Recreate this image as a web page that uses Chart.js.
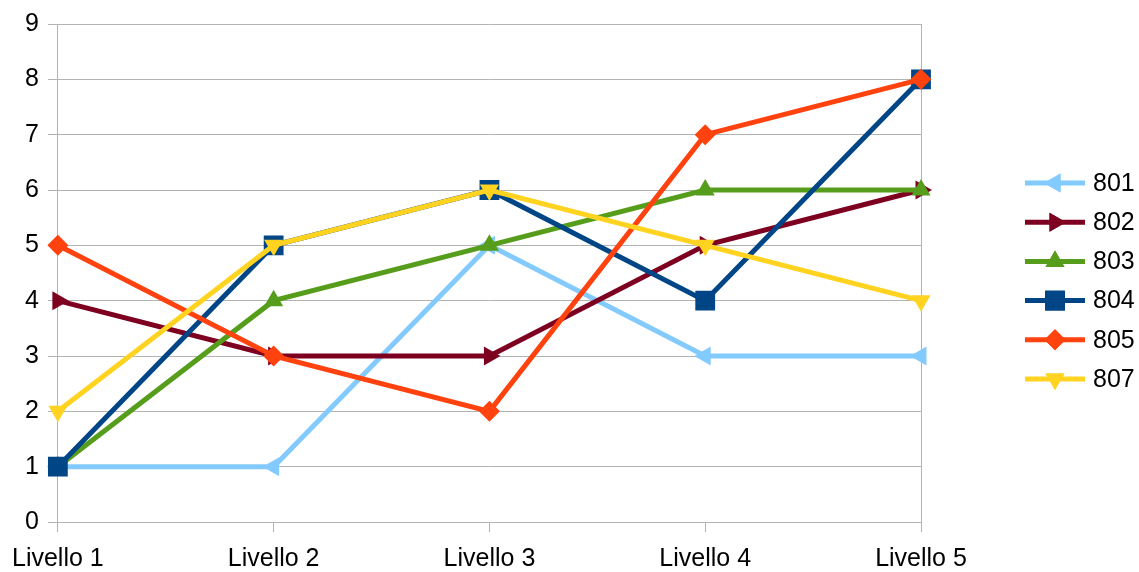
<!DOCTYPE html>
<html>
<head>
<meta charset="utf-8">
<script src="https://cdn.jsdelivr.net/npm/chart.js@4/dist/chart.umd.min.js"></script>
<style>
html,body{margin:0;padding:0;background:#fff;}
#wrap{width:1139px;height:572px;position:relative;}
</style>
</head>
<body>
<div id="wrap"><canvas id="c" width="1139" height="572"></canvas></div>
<script>
const categories = ['Livello 1', 'Livello 2', 'Livello 3', 'Livello 4', 'Livello 5'];
const seriesNames = ['801', '802', '803', '804', '805', '807'];
const s801 = [1, 1, 5, 3, 3];
const s802 = [4, 3, 3, 5, 6];
const s803 = [1, 4, 5, 6, 6];
const s804 = [1, 5, 6, 4, 8];
const s805 = [5, 3, 2, 7, 8];
const s807 = [2, 5, 6, 5, 4];
const yTicks = [0, 1, 2, 3, 4, 5, 6, 7, 8, 9];

const colors = ['#83caff', '#7e0021', '#579d1c', '#004586', '#ff420e', '#ffd320'];
const styles = ['triangle', 'triangle', 'triangle', 'rect', 'rectRot', 'triangle'];
const rotations = [-90, 90, 0, 0, 0, 180];
const radii = [11, 11, 11, 14, 10.5, 11];
const values = [s801, s802, s803, s804, s805, s807];

const FONT = '"Liberation Sans", Arial, sans-serif';
const FSIZE = 25;

const datasets = seriesNames.map((n, i) => ({
  label: n,
  data: values[i],
  borderColor: colors[i],
  backgroundColor: colors[i],
  pointBackgroundColor: colors[i],
  pointBorderColor: colors[i],
  pointBorderWidth: 0,
  borderWidth: 5,
  pointStyle: styles[i],
  rotation: rotations[i],
  pointRadius: radii[i],
  pointHoverRadius: radii[i],
  tension: 0,
  order: seriesNames.length - i
}));

const legendPlugin = {
  id: 'customLegend',
  afterDraw(chart) {
    const ctx = chart.ctx;
    const x0 = 1025, x1 = 1085, tx = 1093;
    const y0 = 183, dy = 39.2;
    ctx.save();
    chart.data.datasets.forEach((ds, i) => {
      const y = y0 + i * dy;
      ctx.strokeStyle = ds.borderColor;
      ctx.lineWidth = 5;
      ctx.beginPath();
      ctx.moveTo(x0, y);
      ctx.lineTo(x1, y);
      ctx.stroke();
      ctx.fillStyle = ds.borderColor;
      Chart.helpers.drawPoint(ctx, {
        pointStyle: ds.pointStyle,
        rotation: ds.rotation,
        radius: ds.pointRadius,
        borderWidth: 0
      }, (x0 + x1) / 2, y);
      ctx.fill();
      ctx.fillStyle = '#000';
      ctx.font = FSIZE + 'px ' + FONT;
      ctx.textBaseline = 'middle';
      ctx.textAlign = 'left';
      ctx.fillText(ds.label, tx, y + 1);
    });
    ctx.restore();
  }
};

new Chart(document.getElementById('c'), {
  type: 'line',
  data: { labels: categories, datasets },
  options: {
    responsive: false,
    animation: false,
    events: [],
    layout: { padding: { left: 0, top: 23, right: 1139 - 921, bottom: 0 } },
    plugins: { legend: { display: false }, tooltip: { enabled: false } },
    scales: {
      x: {
        offset: false,
        afterFit(scale) { scale.height = 50; },
        grid: {
          color: (c) => (c.index === 0 || c.index === categories.length - 1) ? '#b3b3b3' : 'rgba(0,0,0,0)',
          tickColor: '#b3b3b3',
          tickLength: 10,
          lineWidth: 1
        },
        border: { display: true, color: '#b3b3b3', width: 1 },
        ticks: { color: '#000', font: { family: FONT, size: FSIZE }, padding: 12, maxRotation: 0, autoSkip: false }
      },
      y: {
        min: 0,
        max: 9,
        afterFit(scale) { scale.width = 57; },
        afterBuildTicks(scale) { scale.ticks = yTicks.map(v => ({ value: v })); },
        grid: { color: '#b3b3b3', tickColor: '#b3b3b3', tickLength: 10, lineWidth: 1 },
        border: { display: true, color: '#b3b3b3', width: 1 },
        ticks: { color: '#000', font: { family: FONT, size: FSIZE }, padding: 9 }
      }
    }
  },
  plugins: [legendPlugin]
});
</script>
</body>
</html>
